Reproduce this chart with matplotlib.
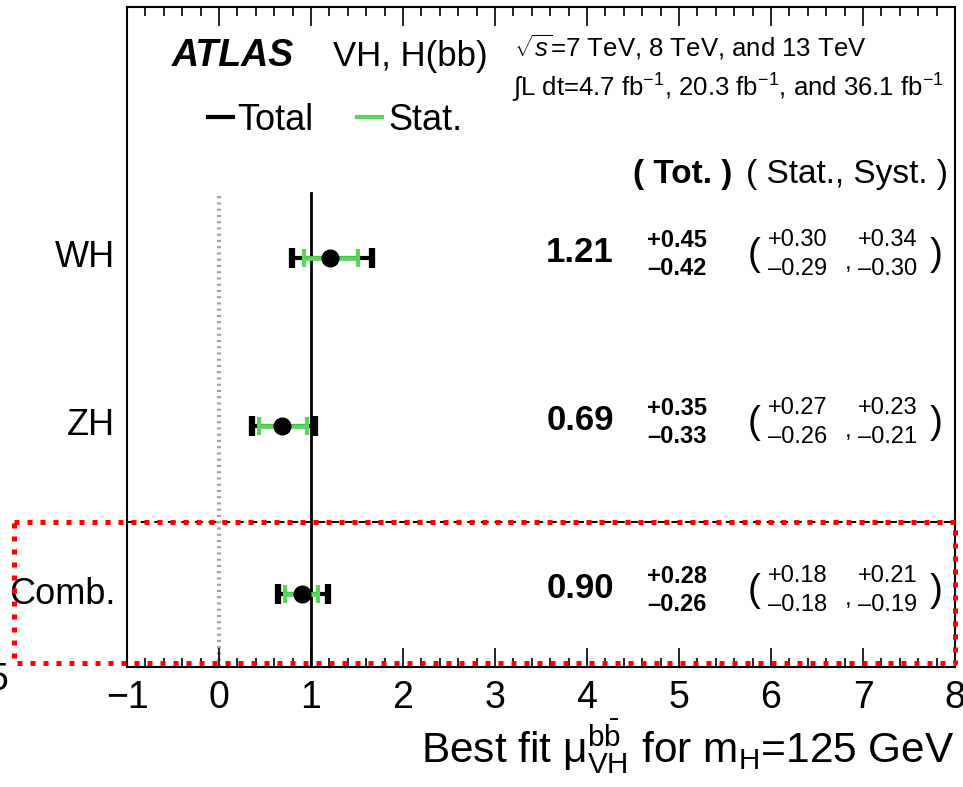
import matplotlib

matplotlib.use("Agg")

import matplotlib.pyplot as plt
import matplotlib.transforms as mtransforms
from matplotlib.lines import Line2D
from matplotlib.ticker import MultipleLocator

plt.rcParams["font.family"] = ["Liberation Sans", "DejaVu Sans"]
plt.rcParams["mathtext.fontset"] = "custom"
plt.rcParams["mathtext.rm"] = "Liberation Sans"
plt.rcParams["mathtext.it"] = "Liberation Sans:italic"
plt.rcParams["mathtext.bf"] = "Liberation Sans:bold"

channels = ["WH", "ZH", "Comb."]
row_y = [3, 2, 1]
mu = [1.21, 0.69, 0.90]
tot_up = [0.45, 0.35, 0.28]
tot_dn = [0.42, 0.33, 0.26]
stat_up = [0.30, 0.27, 0.18]
stat_dn = [0.29, 0.26, 0.18]
syst_up = [0.34, 0.23, 0.21]
syst_dn = [0.30, 0.21, 0.19]

x_ticks = [-1, 0, 1, 2, 3, 4, 5, 6, 7, 8]

W, H = 963, 787
STAT_GREEN = "#5ad45a"


def px(x, y):
    return x / W, 1 - y / H


fig = plt.figure(figsize=(W / 100, H / 100), dpi=100)
ax = fig.add_axes([127 / W, 1 - 667 / H, 828 / W, 660 / H])
ax.set_xlim(-1, 8)
ax.set_ylim(0.5655, 4.494)

# reference lines at mu=0 and mu=1
ax.plot([0, 0], [0.5655, 3.387], color="#a0a0a0", linewidth=3.0,
        linestyle=(0, (0.5, 1.0)), dash_capstyle="butt", zorder=1)
ax.plot([1, 1], [0.5655, 3.387], color="black", linewidth=2.0, zorder=1)
ax.axhline(1.43, color="black", linewidth=1.4, linestyle=(0, (4, 3)), zorder=1)

for y, m, tu, td, su, sd in zip(row_y, mu, tot_up, tot_dn, stat_up, stat_dn):
    ax.errorbar([m], [y], xerr=[[td], [tu]], fmt="none", ecolor="black",
                elinewidth=3.0, capsize=7, capthick=4.5, zorder=3)
    ax.errorbar([m], [y], xerr=[[sd], [su]], fmt="none", ecolor=STAT_GREEN,
                elinewidth=3.4, capsize=6.5, capthick=3.0, zorder=4)
    ax.plot([m], [y], "o", color="black", markersize=12, zorder=5)

ax.set_xticks(x_ticks)
ax.set_xticklabels([f"{t}".replace("-", "\u2212") for t in x_ticks])
ax.xaxis.set_minor_locator(MultipleLocator(0.2))
ax.set_yticks([])
ax.tick_params(axis="x", which="both", direction="in", top=True, bottom=True,
               labelsize=27, pad=9, width=1.2)
ax.tick_params(axis="x", which="major", length=14)
ax.tick_params(axis="x", which="minor", length=6.5)
for s in ax.spines.values():
    s.set_linewidth(1.5)

ax.set_xlabel(r"Best fit $\mathrm{\mu}^{\mathrm{b\bar{b}}}_{\mathrm{VH}}$ for m$_{\mathrm{H}}$=125 GeV",
              fontsize=30.5, loc="right", labelpad=1)

# per-row labels and numbers
tr = mtransforms.blended_transform_factory(ax.transAxes, ax.transData)
lab_tr = mtransforms.blended_transform_factory(fig.transFigure, ax.transData)
for name, y, m, tu, td, su, sd, yu, yd in zip(channels, row_y, mu, tot_up, tot_dn,
                                               stat_up, stat_dn, syst_up, syst_dn):
    fig.text(115 / W, y, name, fontsize=26, ha="right", va="center", transform=lab_tr)
    ax.text(0.547, y + 0.03, f"{m:.2f}", transform=tr, fontsize=25,
            fontweight="bold", ha="center", va="center")
    ax.text(0.628, y + 0.107, f"+{tu:.2f}", transform=tr, fontsize=17,
            fontweight="bold", ha="left", va="center")
    ax.text(0.628, y - 0.065, f"\u2013{td:.2f}", transform=tr, fontsize=17,
            fontweight="bold", ha="left", va="center")
    ax.text(0.750, y + 0.02, "(", transform=tr, fontsize=28, ha="left", va="center")
    ax.text(0.774, y + 0.107, f"+{su:.2f}", transform=tr, fontsize=17,
            ha="left", va="center")
    ax.text(0.774, y - 0.065, f"\u2013{sd:.2f}", transform=tr, fontsize=17,
            ha="left", va="center")
    ax.text(0.867, y - 0.03, ",", transform=tr, fontsize=17, ha="left", va="center")
    ax.text(0.883, y + 0.107, f"+{yu:.2f}", transform=tr, fontsize=17,
            ha="left", va="center")
    ax.text(0.883, y - 0.065, f"\u2013{yd:.2f}", transform=tr, fontsize=17,
            ha="left", va="center")
    ax.text(0.970, y + 0.02, ")", transform=tr, fontsize=28, ha="left", va="center")

# header block
fig.text(*px(172, 66), "ATLAS", fontsize=27, fontweight="bold", style="italic",
         va="baseline")
fig.text(*px(333, 66), "VH, H(bb)", fontsize=25, va="baseline")
fig.text(*px(514, 56), r"$\sqrt{s}$=7 TeV, 8 TeV, and 13 TeV", fontsize=18.5, va="baseline")
fig.text(*px(512, 96), r"$\int$L dt=4.7 fb$^{-1}$, 20.3 fb$^{-1}$, and 36.1 fb$^{-1}$",
         fontsize=18.5, va="baseline")
fig.add_artist(Line2D([208 / W, 233 / W], [1 - 117 / H] * 2, color="black", linewidth=3.0))
fig.text(*px(237, 130), "Total", fontsize=26, va="baseline")
fig.add_artist(Line2D([357 / W, 382 / W], [1 - 117 / H] * 2, color=STAT_GREEN, linewidth=3.0))
fig.text(*px(388, 130), "Stat.", fontsize=26, va="baseline")
fig.text(*px(633, 183), "( Tot. )", fontsize=24, fontweight="bold", va="baseline")
fig.text(*px(746, 183), "( Stat., Syst. )", fontsize=24, va="baseline")

fig.text(*px(8, 690), "5", fontsize=27, ha="right", va="baseline")

# highlight box around the combined result
bx = [14, 955, 955, 14, 14]
by = [522, 522, 663, 663, 522]
fig.add_artist(Line2D([x / W for x in bx], [1 - y / H for y in by], color="red",
                      linewidth=3.6, linestyle=(0, (1, 1.6)), dash_capstyle="butt",
                      zorder=10))

fig.savefig("out.png", dpi=100)
